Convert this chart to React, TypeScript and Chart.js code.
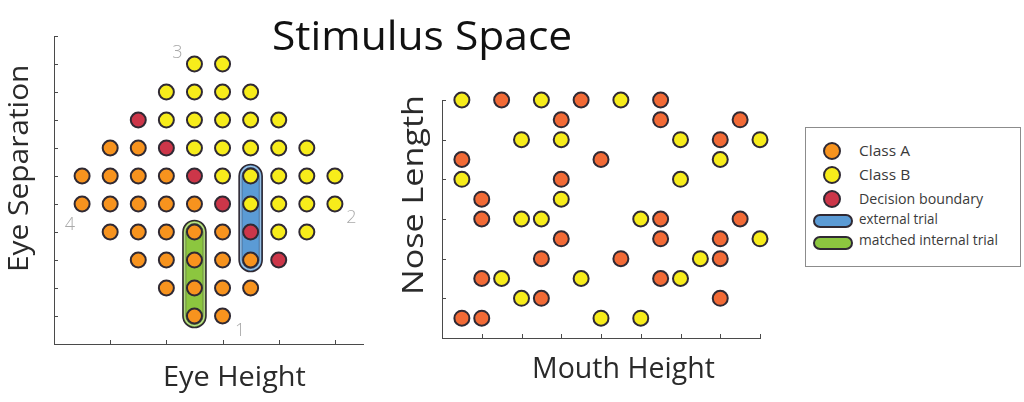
import { useEffect, useLayoutEffect, useRef } from "react";
import { Chart, registerables } from "chart.js";

Chart.register(...registerables);

// ---------- Left chart: Eye Height (x) vs Eye Separation (y) ----------
const leftClassA = [
  { x: 2, y: 7 }, { x: 3, y: 7 },
  { x: 1, y: 6 }, { x: 2, y: 6 }, { x: 3, y: 6 }, { x: 4, y: 6 },
  { x: 1, y: 5 }, { x: 2, y: 5 }, { x: 3, y: 5 }, { x: 4, y: 5 }, { x: 5, y: 5 },
  { x: 2, y: 4 }, { x: 3, y: 4 }, { x: 4, y: 4 }, { x: 5, y: 4 }, { x: 6, y: 4 },
  { x: 3, y: 3 }, { x: 4, y: 3 }, { x: 5, y: 3 }, { x: 6, y: 3 }, { x: 7, y: 3 },
  { x: 4, y: 2 }, { x: 5, y: 2 }, { x: 6, y: 2 }, { x: 7, y: 2 },
  { x: 5, y: 1 }, { x: 6, y: 1 },
];
const leftClassB = [
  { x: 5, y: 10 }, { x: 6, y: 10 },
  { x: 4, y: 9 }, { x: 5, y: 9 }, { x: 6, y: 9 }, { x: 7, y: 9 },
  { x: 4, y: 8 }, { x: 5, y: 8 }, { x: 6, y: 8 }, { x: 7, y: 8 }, { x: 8, y: 8 },
  { x: 5, y: 7 }, { x: 6, y: 7 }, { x: 7, y: 7 }, { x: 8, y: 7 }, { x: 9, y: 7 },
  { x: 6, y: 6 }, { x: 7, y: 6 }, { x: 8, y: 6 }, { x: 9, y: 6 }, { x: 10, y: 6 },
  { x: 7, y: 5 }, { x: 8, y: 5 }, { x: 9, y: 5 }, { x: 10, y: 5 },
  { x: 8, y: 4 }, { x: 9, y: 4 },
];
const leftBoundary = [
  { x: 3, y: 8 }, { x: 4, y: 7 }, { x: 5, y: 6 }, { x: 6, y: 5 }, { x: 7, y: 4 }, { x: 8, y: 3 },
];
// trial capsules: column and row span
const externalTrial = { x: 7, from: 3, to: 6 };
const matchedTrial = { x: 5, from: 1, to: 4 };
// corner labels of the stimulus space (data units)
const cornerLabels = [
  { text: "1", x: 6.63, y: 0.46 },
  { text: "2", x: 10.59, y: 4.5 },
  { text: "3", x: 4.39, y: 10.38 },
  { text: "4", x: 0.57, y: 4.25 },
];
const leftXRange = [0, 11];
const leftYRange = [0, 11];
const leftXTicks = [2, 4, 6, 8, 10];
const leftYTicks = [1, 2, 3, 4, 5, 6, 7, 8, 9, 10, 11];

// ---------- Right chart: Mouth Height (x) vs Nose Length (y) ----------
const rightClassA = [
  { x: 3, y: 12 }, { x: 7, y: 12 }, { x: 11, y: 12 },
  { x: 6, y: 11 }, { x: 11, y: 11 }, { x: 15, y: 11 },
  { x: 14, y: 10 },
  { x: 1, y: 9 }, { x: 8, y: 9 },
  { x: 6, y: 8 },
  { x: 2, y: 7 },
  { x: 2, y: 6 }, { x: 11, y: 6 }, { x: 15, y: 6 },
  { x: 6, y: 5 }, { x: 11, y: 5 }, { x: 14, y: 5 },
  { x: 5, y: 4 }, { x: 9, y: 4 }, { x: 14, y: 4 },
  { x: 2, y: 3 }, { x: 11, y: 3 },
  { x: 5, y: 2 }, { x: 14, y: 2 },
  { x: 1, y: 1 }, { x: 2, y: 1 },
];
const rightClassB = [
  { x: 1, y: 12 }, { x: 5, y: 12 }, { x: 9, y: 12 },
  { x: 4, y: 10 }, { x: 6, y: 10 }, { x: 12, y: 10 }, { x: 16, y: 10 },
  { x: 14, y: 9 },
  { x: 1, y: 8 }, { x: 12, y: 8 },
  { x: 6, y: 7 },
  { x: 4, y: 6 }, { x: 5, y: 6 }, { x: 10, y: 6 },
  { x: 16, y: 5 },
  { x: 13, y: 4 },
  { x: 3, y: 3 }, { x: 7, y: 3 }, { x: 12, y: 3 },
  { x: 4, y: 2 },
  { x: 8, y: 1 }, { x: 10, y: 1 },
];
const rightXRange = [0, 16];
const rightYRange = [0, 12];
const rightXTicks = [2, 4, 6, 8, 10, 12, 14, 16];
const rightYTicks = [2, 4, 6, 8, 10, 12];

// ---------- Text ----------
const titleText = "Stimulus Space";
const leftXTitle = "Eye Height";
const leftYTitle = "Eye Separation";
const rightXTitle = "Mouth Height";
const rightYTitle = "Nose Length";
const legendLabels = ["Class A", "Class B", "Decision boundary", "external trial", "matched internal trial"];

// ---------- Styles ----------
const ORANGE = "#F7931E";
const ORANGE_R = "#F26A36";
const YELLOW = "#F7EC1B";
const RED = "#CC3649";
const BLUE = "#5B9BD5";
const GREEN = "#8CC63F";
const EDGE = "#2F2933";
const AXIS = "#4A4A4A";
const FONT = "'Open Sans', 'Liberation Sans', sans-serif";

function inwardTicks(xTicks: number[], yTicks: number[]) {
  return {
    id: "inwardTicks",
    beforeDatasetsDraw(chart: any) {
      const { ctx, chartArea } = chart;
      const xs = chart.scales.x;
      const ys = chart.scales.y;
      ctx.save();
      ctx.strokeStyle = AXIS;
      ctx.lineWidth = 1;
      ctx.beginPath();
      for (const v of xTicks) {
        const px = Math.round(xs.getPixelForValue(v)) + 0.5;
        ctx.moveTo(px, chartArea.bottom);
        ctx.lineTo(px, chartArea.bottom - 4);
      }
      for (const v of yTicks) {
        const py = Math.round(ys.getPixelForValue(v)) + 0.5;
        ctx.moveTo(chartArea.left, py);
        ctx.lineTo(chartArea.left + 4, py);
      }
      ctx.stroke();
      ctx.restore();
    },
  };
}

function capsulePath(ctx: CanvasRenderingContext2D, cx: number, top: number, bottom: number, r: number) {
  ctx.beginPath();
  ctx.arc(cx, top, r, Math.PI, 0);
  ctx.lineTo(cx + r, bottom);
  ctx.arc(cx, bottom, r, 0, Math.PI);
  ctx.closePath();
}

const capsulePlugin = {
  id: "capsules",
  beforeDatasetsDraw(chart: any) {
    const { ctx } = chart;
    const xs = chart.scales.x;
    const ys = chart.scales.y;
    const items = [
      { t: externalTrial, c: BLUE },
      { t: matchedTrial, c: GREEN },
    ];
    ctx.save();
    for (const { t, c } of items) {
      const cx = xs.getPixelForValue(t.x);
      const top = ys.getPixelForValue(t.to);
      const bottom = ys.getPixelForValue(t.from);
      capsulePath(ctx, cx, top, bottom, 11.5);
      ctx.fillStyle = c;
      ctx.fill();
      ctx.strokeStyle = EDGE;
      ctx.lineWidth = 1.6;
      ctx.stroke();
      capsulePath(ctx, cx, top, bottom, 9.6);
      ctx.strokeStyle = "rgba(255,255,255,0.45)";
      ctx.lineWidth = 1.2;
      ctx.stroke();
      capsulePath(ctx, cx, top, bottom, 8.6);
      ctx.strokeStyle = "rgba(40,40,50,0.45)";
      ctx.lineWidth = 0.8;
      ctx.stroke();
    }
    ctx.restore();
  },
};

const cornerLabelPlugin = {
  id: "cornerLabels",
  afterDatasetsDraw(chart: any) {
    const { ctx } = chart;
    const xs = chart.scales.x;
    const ys = chart.scales.y;
    ctx.save();
    ctx.fillStyle = "#A9A9A9";
    ctx.font = `300 18px ${FONT}`;
    ctx.textAlign = "center";
    ctx.textBaseline = "middle";
    for (const l of cornerLabels) {
      ctx.fillText(l.text, xs.getPixelForValue(l.x), ys.getPixelForValue(l.y));
    }
    ctx.restore();
  },
};

function pointSet(data: any[], color: string) {
  return {
    data,
    backgroundColor: color,
    borderColor: EDGE,
    borderWidth: 2,
    pointRadius: 7.5,
    pointHoverRadius: 7.5,
    clip: false as any,
  };
}

function scatterOptions(
  xr: number[],
  yr: number[],
  yAxisWidth: number,
  xAxisHeight: number,
  padTop: number,
  padRight: number
) {
  const axis = (min: number, max: number, fit: (s: any) => void) => ({
    type: "linear" as const,
    min,
    max,
    grid: { display: false },
    border: { display: true, color: AXIS, width: 1 },
    ticks: { display: false },
    afterFit: fit,
  });
  return {
    responsive: false,
    animation: false as const,
    events: [] as any[],
    layout: { padding: { top: padTop, right: padRight, left: 0, bottom: 0 } },
    plugins: { legend: { display: false }, tooltip: { enabled: false }, title: { display: false } },
    scales: {
      x: axis(xr[0], xr[1], (s: any) => { s.height = xAxisHeight; }),
      y: axis(yr[0], yr[1], (s: any) => { s.width = yAxisWidth; }),
    },
  };
}

// Text stretched along its reading direction to a target length.
function FitText(props: {
  text: string;
  left: number;
  top: number;
  size: number;
  length: number;
  weight?: number;
  color?: string;
  vertical?: boolean;
}) {
  const ref = useRef<HTMLDivElement>(null);
  useLayoutEffect(() => {
    const el = ref.current!;
    const apply = () => {
      const w = el.offsetWidth || 1;
      const s = props.length / w;
      el.style.transform = (props.vertical ? "rotate(-90deg) " : "") + `scaleX(${s})`;
    };
    apply();
    if ((document as any).fonts && (document as any).fonts.ready) {
      (document as any).fonts.ready.then(apply);
    }
  }, [props.text, props.length, props.size, props.vertical]);
  return (
    <div
      ref={ref}
      style={{
        position: "absolute",
        left: props.left,
        top: props.top,
        fontFamily: FONT,
        fontWeight: props.weight ?? 400,
        fontSize: props.size,
        lineHeight: 1,
        color: props.color ?? "#222",
        whiteSpace: "nowrap",
        transformOrigin: "0 0",
      }}
    >
      {props.text}
    </div>
  );
}

export default function App() {
  const leftRef = useRef<HTMLCanvasElement>(null);
  const rightRef = useRef<HTMLCanvasElement>(null);

  useEffect(() => {
    const left = new Chart(leftRef.current!, {
      type: "scatter",
      data: {
        datasets: [
          pointSet(leftClassA, ORANGE),
          pointSet(leftClassB, YELLOW),
          pointSet(leftBoundary, RED),
        ],
      },
      options: scatterOptions(leftXRange, leftYRange, 54, 58, 36, 17) as any,
      plugins: [inwardTicks(leftXTicks, leftYTicks), capsulePlugin, cornerLabelPlugin],
    });
    const right = new Chart(rightRef.current!, {
      type: "scatter",
      data: {
        datasets: [pointSet(rightClassA, ORANGE_R), pointSet(rightClassB, YELLOW)],
      },
      options: scatterOptions(rightXRange, rightYRange, 62, 64, 100, 20) as any,
      plugins: [inwardTicks(rightXTicks, rightYTicks)],
    });
    return () => {
      left.destroy();
      right.destroy();
    };
  }, []);

  const legendMarker = (kind: "dot" | "pill", color: string, cx: number, cy: number) => {
    const w = kind === "dot" ? 18 : 40;
    const h = kind === "dot" ? 18 : 14;
    return {
      position: "absolute" as const,
      left: cx - w / 2,
      top: cy - h / 2,
      width: w,
      height: h,
      boxSizing: "border-box" as const,
      border: `2px solid ${EDGE}`,
      borderRadius: h / 2,
      background: color,
    };
  };

  const legendColors = [ORANGE, YELLOW, RED, BLUE, GREEN];
  const legendKinds: ("dot" | "pill")[] = ["dot", "dot", "dot", "pill", "pill"];
  const markerY = [150.7, 175, 199, 221.3, 242.7];
  const textY = [150.7, 175, 199, 219, 240];
  const legendLengths = [50.7, 50.7, 124, 79, 139];

  return (
    <div
      style={{
        position: "fixed",
        left: 0,
        top: 0,
        width: 1024,
        height: 402,
        background: "#fff",
        overflow: "hidden",
      }}
    >
      <canvas ref={leftRef} width={380} height={402} style={{ position: "absolute", left: 0, top: 0 }} />
      <canvas ref={rightRef} width={400} height={402} style={{ position: "absolute", left: 380, top: 0 }} />

      <FitText text={titleText} left={272} top={15} size={40} length={300} weight={400} color="#111" />
      <FitText text={leftXTitle} left={163} top={362} size={27.5} length={143} weight={400} color="#2a2a2a" />
      <FitText text={rightXTitle} left={532} top={352} size={29} length={183} weight={400} color="#2a2a2a" />
      <FitText text={leftYTitle} left={3} top={272} size={28} length={207} weight={400} color="#2a2a2a" vertical />
      <FitText text={rightYTitle} left={397} top={295} size={29} length={200} weight={400} color="#2a2a2a" vertical />

      <div
        style={{
          position: "absolute",
          left: 805,
          top: 127,
          width: 216,
          height: 140,
          boxSizing: "border-box",
          border: "1px solid #8C8C8C",
        }}
      />
      {legendLabels.map((label, i) => (
        <div key={"m" + i} style={legendMarker(legendKinds[i], legendColors[i], i < 3 ? 832.3 : 832.7, markerY[i])} />
      ))}
      {legendLabels.map((label, i) => (
        <FitText
          key={"t" + i}
          text={label}
          left={859}
          top={textY[i] - 8.1}
          size={15}
          length={legendLengths[i]}
          weight={400}
          color="#3a3a3a"
        />
      ))}
    </div>
  );
}
